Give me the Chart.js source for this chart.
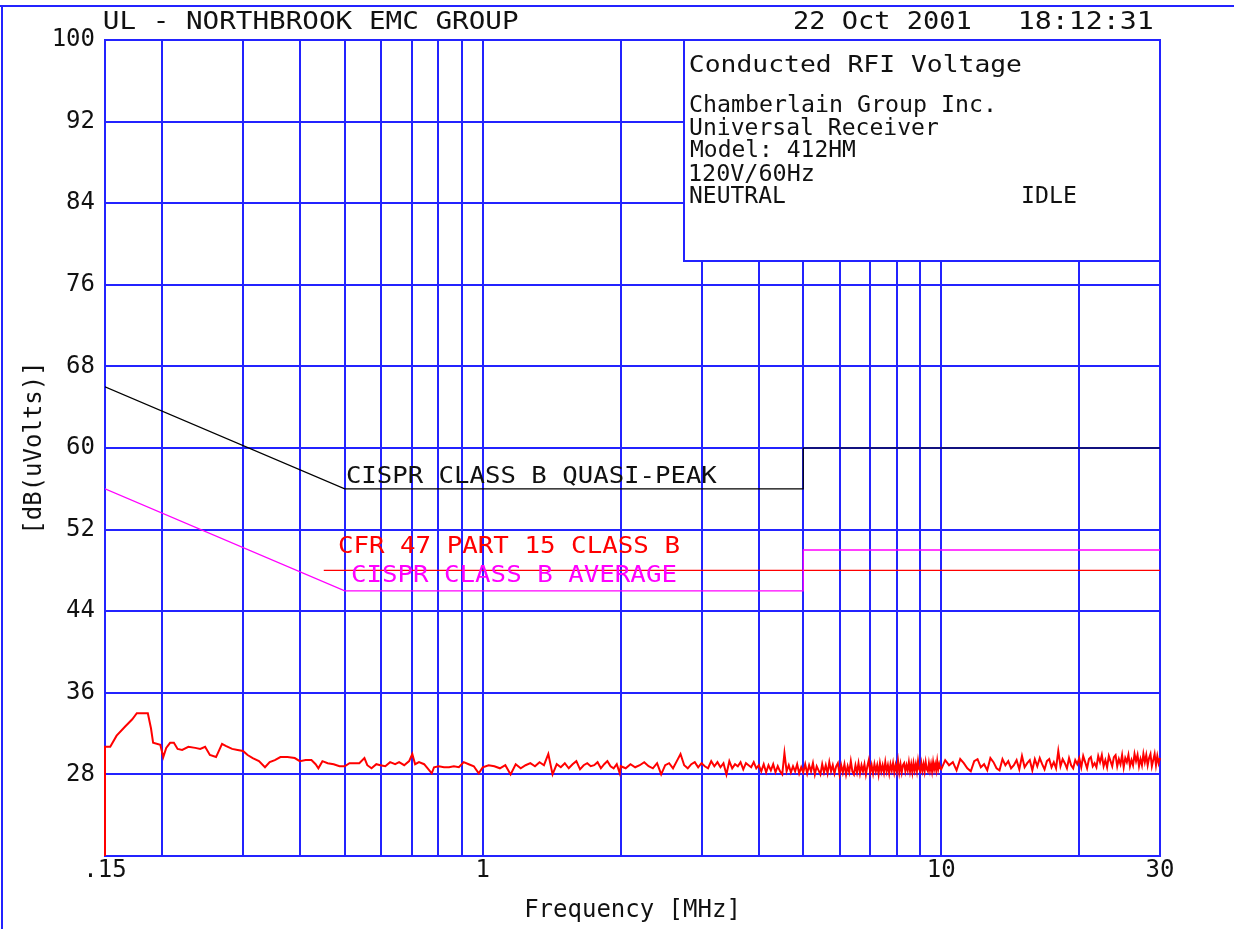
<!DOCTYPE html>
<html><head><meta charset="utf-8">
<script src="https://cdn.jsdelivr.net/npm/chart.js@4/dist/chart.umd.min.js"></script>
<style>html,body{margin:0;padding:0;background:#fff;}canvas{display:block;}</style>
</head><body>
<canvas id="c" width="1234" height="929"></canvas>
<script>
// ---------- DATA ----------
const xTickValues = [0.15,0.2,0.3,0.4,0.5,0.6,0.7,0.8,0.9,1,2,3,4,5,6,7,8,9,10,20,30];
const xTickLabels = {"0.15":".15","1":"1","10":"10","30":"30"};
const yTickValues = [20,28,36,44,52,60,68,76,84,92,100];

const qpFreq  = [0.15,0.5,5,5,30];
const qpLevel = [66,56,56,60,60];
const avgFreq  = [0.15,0.5,5,5,30];
const avgLevel = [56,46,46,50,50];
const fccFreq  = [0.45,30];
const fccLevel = [48,48];

const measFreqLow = [0.150,0.150,0.154,0.159,0.166,0.172,0.176,0.186,0.189,0.191,0.198,0.201,0.204,0.208,0.212,0.216,0.221,0.228,0.236,0.242,0.248,0.254,0.262,0.270,0.275,0.284,0.292,0.300,0.307,0.315,0.325,0.335,0.343,0.352,0.362,0.375,0.389,0.399,0.411,0.423,0.432,0.438,0.447,0.459,0.473,0.487,0.500,0.512,0.525,0.538,0.552,0.560,0.572,0.586,0.598,0.613,0.628,0.644,0.657,0.674,0.691,0.702,0.712,0.726,0.745,0.774,0.783,0.802,0.823,0.844,0.865,0.887,0.909,0.932,0.956,0.980];
const measLevelLow = [20.0,30.7,30.7,31.8,32.7,33.4,34.0,34.0,32.5,31.1,30.9,29.7,30.6,31.1,31.1,30.5,30.4,30.7,30.6,30.5,30.7,29.9,29.7,31.0,30.8,30.5,30.4,30.3,29.9,29.6,29.3,28.7,29.2,29.4,29.7,29.7,29.6,29.3,29.4,29.4,29.0,28.6,29.3,29.1,29.0,28.8,28.8,29.1,29.1,29.1,29.6,28.9,28.6,29.0,28.9,28.8,29.2,29.0,29.2,28.9,29.3,30.0,29.0,29.2,29.0,28.1,28.7,28.8,28.7,28.7,28.8,28.7,29.2,29.0,28.8,28.1];

const measFreqA = [1.00,1.03,1.06,1.09,1.12,1.15,1.18,1.21,1.24,1.27,1.30,1.33,1.36,1.39,1.42,1.45,1.48,1.51,1.54,1.57,1.60,1.63,1.66,1.69,1.72,1.75,1.78,1.81,1.84,1.87,1.90,1.93,1.96,1.99];
const measLevelA = [28.7,28.9,28.8,28.6,28.9,28.0,29.0,28.6,28.9,29.1,28.8,29.2,28.9,30.0,28.0,29.0,28.7,29.1,28.6,29.0,29.3,28.5,28.9,29.1,28.8,28.9,29.2,28.6,29.0,29.3,28.8,28.6,29.0,28.1];

const measFreqB = [2.00,2.05,2.10,2.15,2.20,2.25,2.30,2.35,2.40,2.45,2.50,2.55,2.60,2.65,2.70,2.75,2.80,2.85,2.90,2.95,3.00,3.05,3.10,3.15,3.20,3.25,3.30,3.35,3.40,3.45,3.50,3.55,3.60,3.65,3.70,3.75,3.80,3.85,3.90,3.95,4.00,4.05,4.10,4.15,4.20,4.25,4.30,4.35,4.40,4.45,4.50,4.55,4.60,4.65,4.70,4.75,4.80,4.85,4.90,4.95];
const measLevelB = [28.8,28.6,29.0,28.7,28.9,29.2,28.8,28.6,29.1,28.0,28.9,29.1,28.6,29.3,30.0,28.9,28.6,29.0,29.2,28.7,29.1,28.8,28.6,29.3,28.8,29.2,28.7,29.1,28.0,29.3,28.6,29.0,28.8,29.2,28.5,29.1,28.9,28.7,29.2,28.6,28.9,28.3,29.0,28.2,28.9,28.4,29.0,28.2,28.8,28.3,28.0,30.1,28.3,28.9,28.2,28.8,28.3,29.0,28.1,28.7];

const measFreqC = [5.00,5.05,5.10,5.15,5.20,5.25,5.30,5.35,5.40,5.45,5.50,5.55,5.60,5.65,5.70,5.75,5.80,5.85,5.90,5.95,6.00,6.05,6.10,6.15,6.20,6.25,6.30,6.35,6.40,6.45,6.50,6.55,6.60,6.65,6.70,6.75,6.80,6.85,6.90,6.95,7.00,7.05,7.10,7.15,7.20,7.25,7.30,7.35,7.40,7.45,7.50,7.55,7.60,7.65,7.70,7.75,7.80,7.85,7.90,7.95,8.00,8.05,8.10,8.15,8.20,8.25,8.30,8.35,8.40,8.45,8.50,8.55,8.60,8.65,8.70,8.75,8.80,8.85,8.90,8.95,9.00,9.05,9.10,9.15,9.20,9.25,9.30,9.35,9.40,9.45,9.50,9.55,9.60,9.65,9.70,9.75,9.80,9.85,9.90,9.95];
const measLevelC = [28.2,29.0,28.1,28.9,28.3,29.1,28.0,28.8,28.4,28.0,29.0,28.2,28.9,28.1,29.2,28.3,28.9,28.1,28.8,29.1,28.0,28.9,28.2,29.0,28.0,28.8,28.2,29.3,28.3,28.0,28.9,28.2,29.1,28.1,28.9,28.3,29.0,28.0,28.8,29.4,28.2,28.9,28.1,29.0,28.3,28.9,28.0,29.1,28.3,28.9,28.2,29.2,28.3,28.9,28.1,29.0,28.4,29.1,28.2,28.9,28.3,29.3,28.2,29.0,28.2,28.9,29.1,28.3,28.9,28.4,29.2,28.3,29.0,28.2,29.1,28.4,29.0,28.3,29.3,28.5,28.3,29.1,28.4,29.0,28.3,29.2,28.5,28.3,29.1,28.4,29.0,28.3,29.2,28.5,29.0,28.4,29.3,28.5,29.0,28.6];

const measFreqD = [10.0,10.2,10.4,10.6,10.8,11.0,11.2,11.4,11.6,11.8,12.0,12.2,12.4,12.6,12.8,13.0,13.2,13.4,13.6,13.8,14.0,14.2,14.4,14.6,14.8,15.0,15.2,15.4,15.6,15.8,16.0,16.2,16.4,16.6,16.8,17.0,17.2,17.4,17.6,17.8,18.0,18.2,18.4,18.6,18.8,19.0,19.2,19.4,19.6,19.8,20.0,20.2,20.4,20.6,20.8,21.0,21.2,21.4,21.6,21.8,22.0,22.2,22.4,22.6,22.8,23.0,23.2,23.4,23.6,23.8,24.0,24.2,24.4,24.6,24.8,25.0,25.2,25.4,25.6,25.8,26.0,26.2,26.4,26.6,26.8,27.0,27.2,27.4,27.6,27.8,28.0,28.2,28.4,28.6,28.8,29.0,29.2,29.4,29.6,29.8,30.0];
const measLevelD = [28.5,29.4,28.9,29.2,28.4,29.5,29.1,28.6,28.3,29.3,29.5,28.7,29.0,28.4,29.6,29.2,28.6,28.4,29.5,28.9,29.3,28.6,28.9,29.4,28.5,29.8,28.7,29.1,29.4,28.4,29.5,28.8,29.6,29.0,28.5,29.3,29.5,28.7,29.2,28.6,30.3,28.8,29.5,29.1,28.6,29.6,28.9,28.6,29.4,29.0,29.6,28.7,29.8,29.2,28.6,29.5,29.7,28.8,29.1,28.7,29.8,29.2,29.9,28.8,29.4,28.7,29.8,29.3,28.8,29.7,29.9,28.8,29.5,29.0,29.9,28.7,29.6,29.2,29.9,28.8,29.4,28.9,30.0,29.3,29.9,28.8,29.5,28.9,30.0,29.2,29.9,28.9,29.6,30.0,28.8,29.4,30.0,28.9,29.8,29.1,29.6];

// ---------- BUILD ----------
const measFreq  = [].concat(measFreqLow, measFreqA, measFreqB, measFreqC, measFreqD);
const measLevel = [].concat(measLevelLow, measLevelA, measLevelB, measLevelC, measLevelD);
const pts = (fs, ls) => fs.map((f, i) => ({x: f, y: ls[i]}));

const BLUE = 'rgb(35,35,255)';
const MONO = 'DejaVu Sans Mono';

function fitText(ctx, text, x, y, w, size, color) {
  ctx.save();
  ctx.font = size + 'px "' + MONO + '"';
  ctx.fillStyle = color;
  ctx.textAlign = 'left';
  ctx.textBaseline = 'alphabetic';
  const m = ctx.measureText(text);
  const vis = m.actualBoundingBoxRight + m.actualBoundingBoxLeft;
  const s = w / vis;
  ctx.translate(x, y);
  ctx.scale(s, 1);
  ctx.fillText(text, m.actualBoundingBoxLeft, 0);
  ctx.restore();
}

const decor = {
  id: 'decor',
  beforeDraw(chart) {
    const ctx = chart.ctx;
    ctx.save();
    ctx.strokeStyle = BLUE; ctx.lineWidth = 2;
    ctx.beginPath();
    ctx.moveTo(0, 6); ctx.lineTo(1234, 6);
    ctx.moveTo(2, 6); ctx.lineTo(2, 929);
    ctx.stroke();
    ctx.restore();
    fitText(ctx, 'UL - NORTHBROOK EMC GROUP', 104, 29, 414, 24, '#111');
    fitText(ctx, '22 Oct 2001', 794, 29, 176, 24, '#111');
    fitText(ctx, '18:12:31', 1020, 29, 132, 24, '#111');
  },
  beforeDatasetsDraw(chart) {
    const ctx = chart.ctx;
    const a = chart.chartArea;
    ctx.save();
    ctx.fillStyle = '#fff';
    ctx.fillRect(684, a.top, a.right - 684, 261 - a.top);
    ctx.strokeStyle = BLUE; ctx.lineWidth = 2;
    ctx.strokeRect(684, a.top, a.right - 684, 261 - a.top);
    ctx.restore();
    fitText(ctx, 'Conducted RFI Voltage', 690, 72, 331, 23, '#111');
    fitText(ctx, 'Chamberlain Group Inc.', 690, 112, 302, 23, '#111');
    fitText(ctx, 'Universal Receiver', 690, 135, 248, 23, '#111');
    fitText(ctx, 'Model: 412HM', 690, 157, 165, 23, '#111');
    fitText(ctx, '120V/60Hz', 690, 181, 123, 23, '#111');
    fitText(ctx, 'NEUTRAL', 690, 203, 95, 23, '#111');
    fitText(ctx, 'IDLE', 1023, 203, 53, 23, '#111');
  },
  afterDatasetsDraw(chart) {
    const ctx = chart.ctx;
    fitText(ctx, 'CISPR CLASS B QUASI-PEAK', 347, 483, 370, 23, '#111');
    fitText(ctx, 'CFR 47 PART 15 CLASS B', 339, 553, 340, 23, '#ff0000');
    fitText(ctx, 'CISPR CLASS B AVERAGE', 352, 582, 324, 23, '#ff00ff');
  }
};

new Chart(document.getElementById('c'), {
  type: 'line',
  data: {
    datasets: [
      {label: 'CISPR CLASS B QUASI-PEAK', data: pts(qpFreq, qpLevel), borderColor: '#000', borderWidth: 1.2, pointRadius: 0, tension: 0},
      {label: 'CISPR CLASS B AVERAGE', data: pts(avgFreq, avgLevel), borderColor: '#ff00ff', borderWidth: 1.3, pointRadius: 0, tension: 0},
      {label: 'CFR 47 PART 15 CLASS B', data: pts(fccFreq, fccLevel), borderColor: '#ff0000', borderWidth: 1.3, pointRadius: 0, tension: 0},
      {label: 'Measured', data: pts(measFreq, measLevel), borderColor: '#ff0000', borderWidth: 2, pointRadius: 0, tension: 0, clip: 4}
    ]
  },
  options: {
    responsive: false,
    animation: false,
    devicePixelRatio: 1,
    parsing: false,
    normalized: true,
    layout: {padding: {left: 0, right: 74, top: 40, bottom: 0}},
    plugins: {legend: {display: false}, tooltip: {enabled: false}, title: {display: false}},
    scales: {
      x: {
        type: 'logarithmic', min: 0.15, max: 30,
        afterBuildTicks: s => { s.ticks = xTickValues.map(v => ({value: v})); },
        afterFit: s => { s.height = 73; },
        ticks: {autoSkip: false, maxRotation: 0, minRotation: 0, padding: 3, color: '#111',
          font: {family: MONO, size: 24, lineHeight: 1},
          callback: v => xTickLabels[String(v)] || ''},
        grid: {color: BLUE, lineWidth: 2, drawTicks: false},
        border: {color: BLUE, width: 2},
        title: {display: true, text: 'Frequency [MHz]', color: '#111',
          font: {family: MONO, size: 24, lineHeight: 1}, padding: {top: 0, bottom: 6}}
      },
      y: {
        type: 'linear', min: 20, max: 100,
        afterBuildTicks: s => { s.ticks = yTickValues.map(v => ({value: v})); },
        afterFit: s => { s.width = 105; },
        ticks: {padding: 10, color: '#111', font: {family: MONO, size: 24, lineHeight: 1},
          callback: v => (v === 20 ? '' : String(v))},
        grid: {color: BLUE, lineWidth: 2, drawTicks: false},
        border: {color: BLUE, width: 2},
        title: {display: true, text: '[dB(uVolts)]', color: '#111',
          font: {family: MONO, size: 24, lineHeight: 1}, padding: {top: 23, bottom: 0}}
      }
    }
  },
  plugins: [decor]
});
</script>
</body></html>
